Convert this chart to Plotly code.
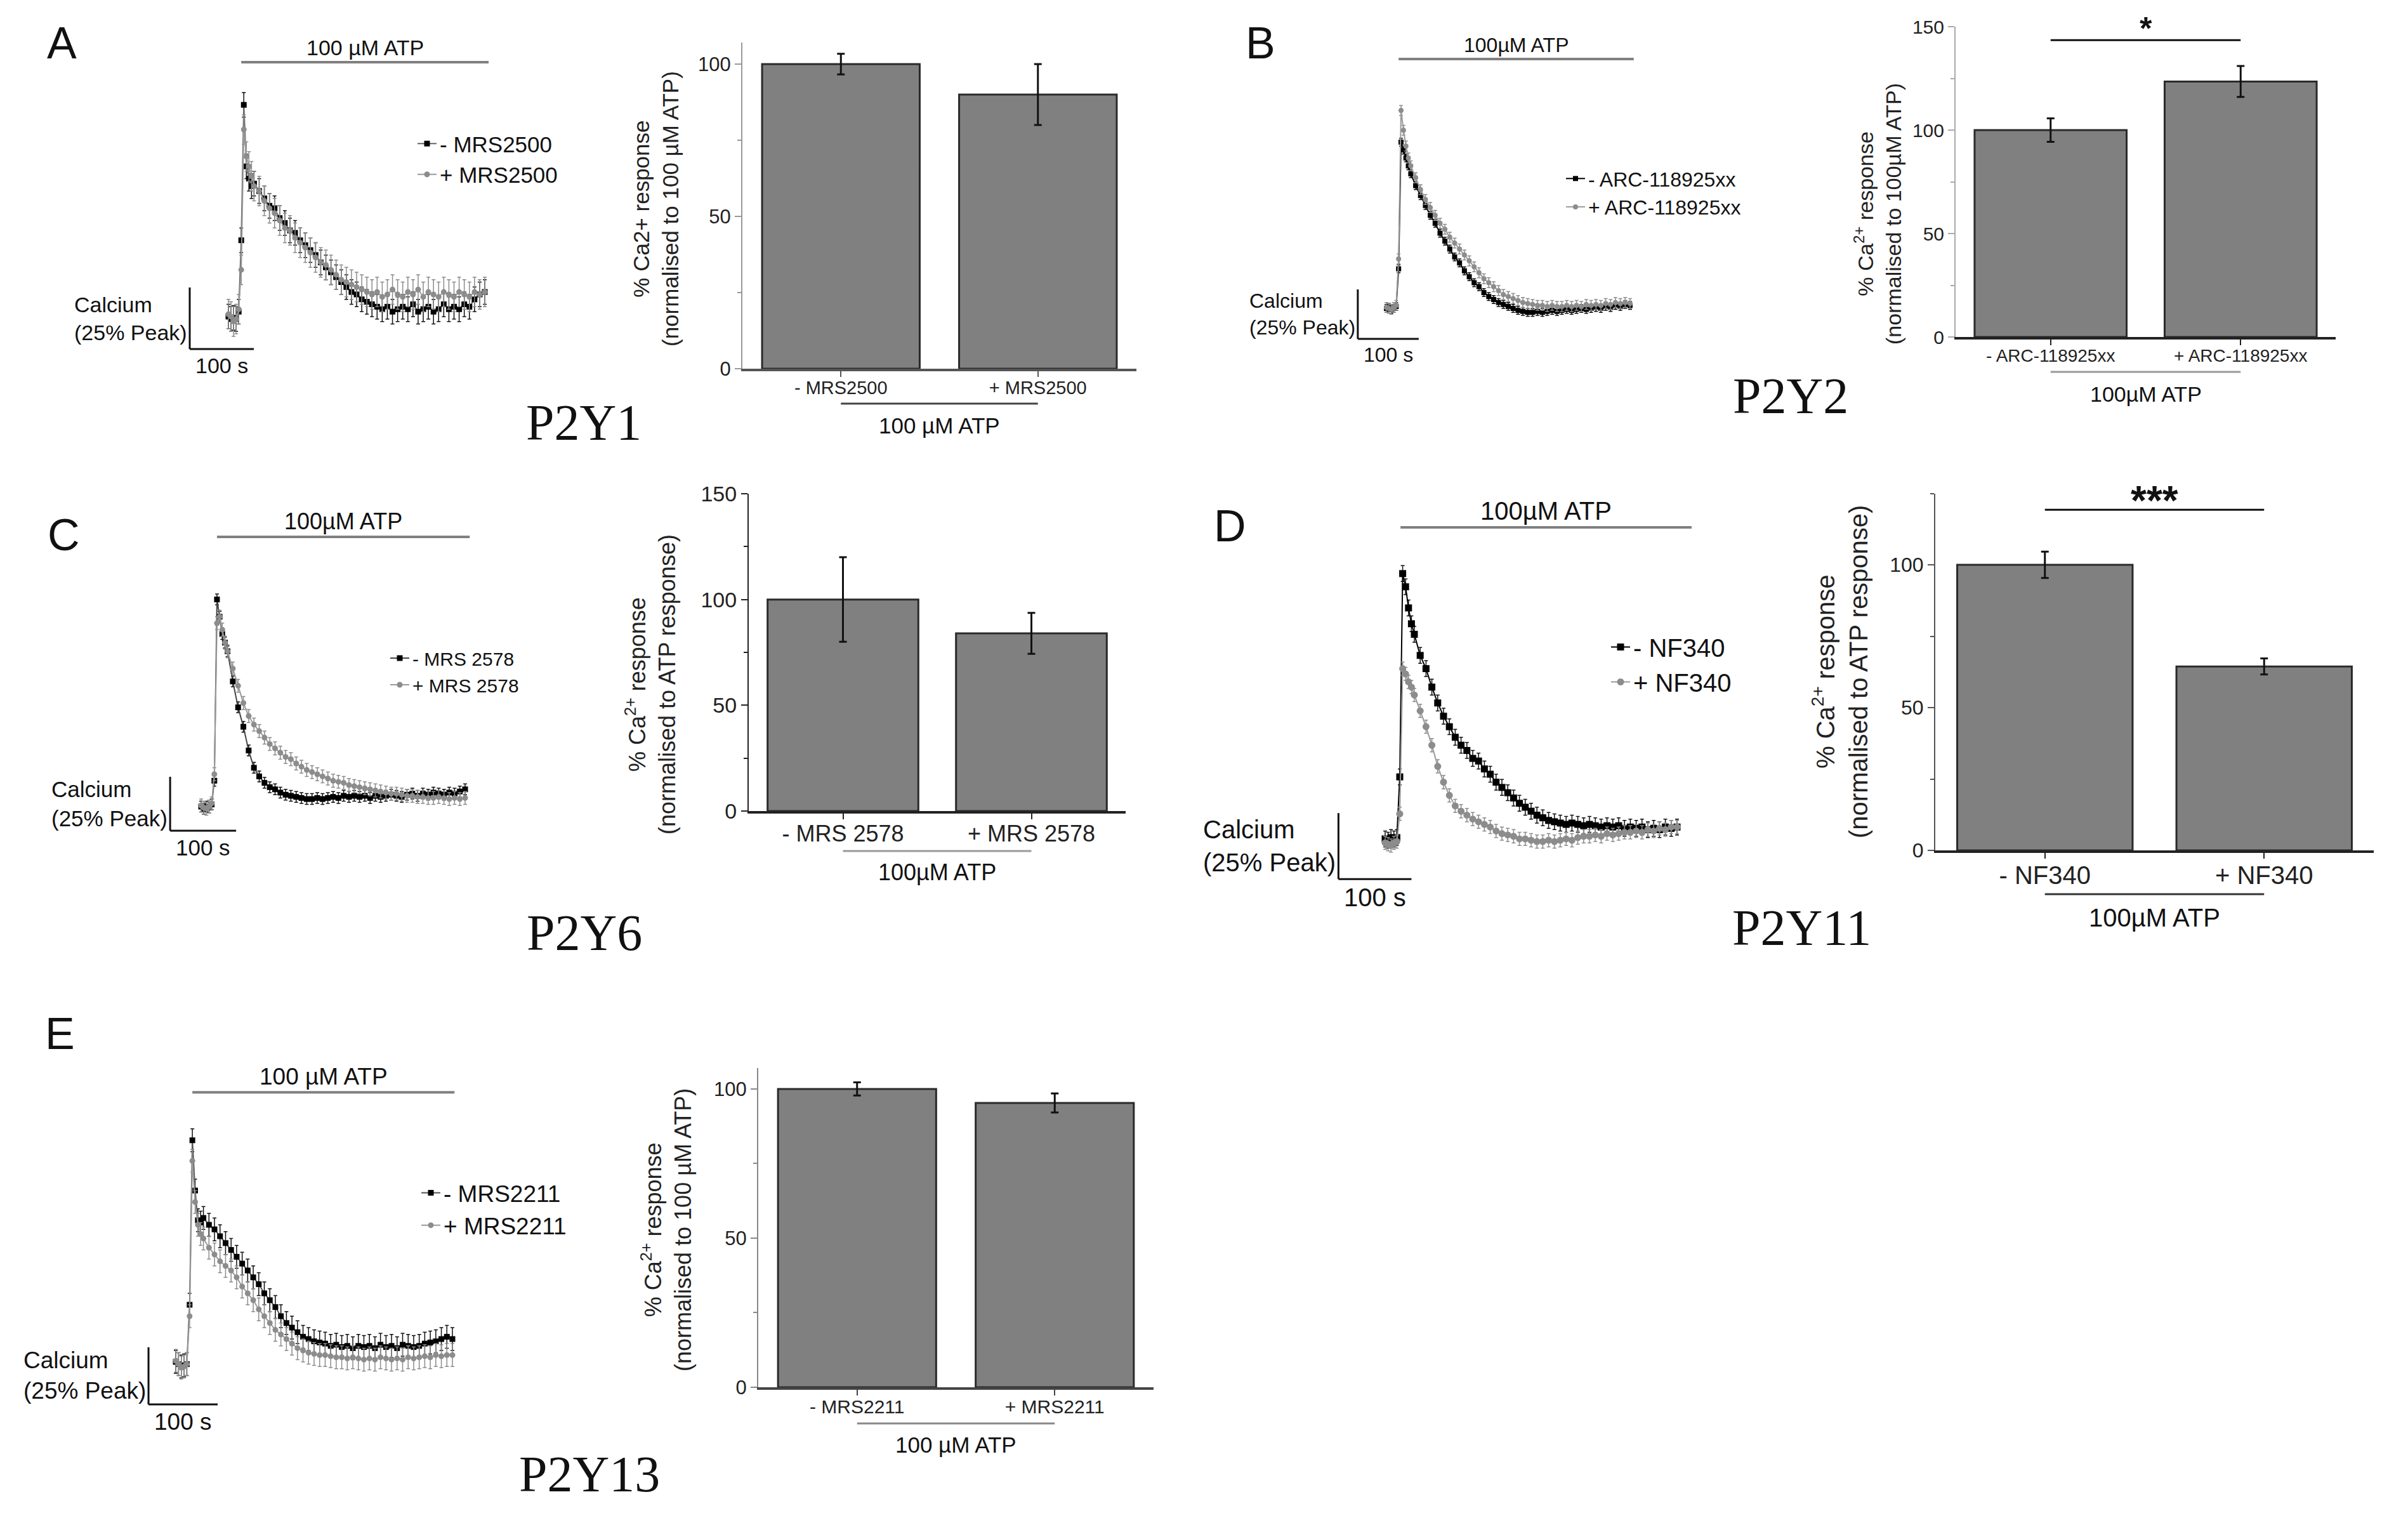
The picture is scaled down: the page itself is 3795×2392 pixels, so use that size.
import plotly.graph_objects as go

W, H = 3795, 2392
OFF = 8  # the page body margin shifts the figure by this many px
SANS = "Liberation Sans, Arial, sans-serif"
SERIF = "Liberation Serif, Times New Roman, serif"

# ---- calcium traces: time (s) and response (% of peak, scale bar = 25) ----
T = [0, 4, 8, 12, 16, 20, 24, 28, 32, 36, 40,
     48, 56, 64, 72, 80, 88, 96, 104, 112, 120,
     128, 136, 144, 152, 160, 168, 176, 184, 192, 200,
     208, 216, 224, 232, 240, 248, 256, 264, 272, 280,
     288, 296, 304, 312, 320, 328, 336, 344, 352, 360,
     368, 376, 384, 392, 400]

A_MINUS = [-1, -2, -1.5, -2, 1, 30, 85, 60, 55, 52, 53,
           50, 47, 44, 43, 39, 37, 34, 33, 30, 28,
           26, 24, 21, 19, 17, 15, 13, 11, 9, 8,
           6, 5, 4, 3, 2, 3, 1, 2, 3, 2,
           4, 1, 2, 3, 1, 2, 4, 2, 3, 2,
           4, 3, 6, 8, 9]
A_PLUS = [0, -1, -3, -2, 2, 18, 75, 64, 60, 56, 52,
          50, 46, 43, 41, 38, 35, 34, 31, 29, 27,
          25, 23, 21, 20, 18, 16, 14, 13, 12, 11,
          10, 9, 8, 9, 7, 8, 10, 8, 7, 9,
          8, 10, 7, 9, 8, 7, 9, 8, 7, 9,
          8, 7, 9, 8, 9]
B_MINUS = [0, 0.5, -0.5, 0, 1, 20, 84, 80, 76, 72, 68,
           62, 57, 52, 47, 43, 38, 34, 30, 26, 23,
           19, 16, 13, 11, 8, 6, 4.5, 3, 2, 1,
           0, -1, -1.5, -2, -2, -1.5, -2, -1.5, -1, -1.5,
           -1, -0.5, -1, -0.5, 0, -0.5, 0, 0.5, 0, 1,
           0.5, 1.5, 1, 2, 1.5]
B_PLUS = [0.5, 0, -0.5, 0.5, 1.5, 25, 100, 90, 82, 76, 72,
          66, 60, 55, 51, 47, 43, 40, 36, 33, 30,
          27, 24, 21, 18, 15, 13, 11, 9, 7, 6,
          5, 4, 3, 2.5, 2, 1.5, 1.5, 1, 1.5, 1,
          1, 1.5, 1, 1.5, 1, 2, 1.5, 2, 1.5, 2.5,
          2, 3, 2.5, 3, 2.5]
C_MINUS = [0, -1, 0, -0.5, 1, 12, 96, 88, 80, 76, 72,
           58, 46, 37, 26, 18, 14, 11, 9, 8, 6.5,
           5.5, 5, 4.5, 4, 3.5, 3.5, 4, 3.5, 4, 4.5,
           4, 5, 4.5, 5, 4.5, 5, 4, 5, 4.5, 5,
           5.5, 5, 4.5, 5.5, 6, 5, 6, 5.5, 6.5, 6,
           5.5, 6.5, 6, 7, 8]
C_PLUS = [0.5, -0.5, -1, 0, 1.5, 15, 85, 88, 82, 76, 72,
          64, 56, 48, 42, 38, 35, 32, 29, 27, 25,
          23, 22, 20, 18.5, 17, 16, 15, 14, 13, 12,
          11.5, 11, 10, 9.5, 9, 8.5, 8, 7.5, 7, 6.5,
          6, 6, 5.5, 5, 5, 4.5, 4.5, 4, 4, 4.5,
          4, 3.5, 4, 3.5, 4]
D_MINUS = [0.5, 0, 1, 0.5, 1, 24, 101, 96, 88, 82, 78,
           70, 65, 58, 52, 47, 43, 39, 36, 34, 31,
           30, 27, 25, 22, 20, 18, 16, 14, 12.5, 11,
           9.5, 8.5, 7.5, 7, 6.5, 6, 6.5, 6, 5.5, 6,
           5.5, 5, 5.5, 5, 5.5, 4.5, 5, 4.5, 5, 4,
           4.5, 4, 5, 4.5, 5]
D_PLUS = [-1, -1.5, -2, -1, -0.5, 10, 65, 63, 60, 58, 55,
          49, 43, 36, 28, 22, 17, 13, 11, 9.5, 8,
          7, 6, 5, 3.5, 2.5, 2, 1.5, 0.5, 0.5, 0,
          -0.5, -0.5, 0, -0.5, 0, 0.5, 0, 1, 1.5, 1.5,
          2, 1.5, 2.5, 2, 2.5, 3, 3, 3.5, 3, 4,
          3.5, 4.5, 4, 5, 5]
E_MINUS = [0, -1, -2, -1.5, -1, 25, 97, 75, 62, 61, 63,
           60, 58, 55, 52, 49, 46, 43, 40, 37, 34,
           30, 27, 24, 20, 17, 15, 13, 11, 10, 9,
           8.5, 8, 7, 7.5, 6.5, 7, 6, 7, 6.5, 7,
           6, 7.5, 6.5, 7, 6, 7.5, 7, 6.5, 7, 8,
           8.5, 9, 10, 11, 10]
E_PLUS = [0.5, -1, -2.5, -2, -1, 20, 88, 70, 60, 56, 54,
          50, 47, 44, 42, 40, 37, 33, 30, 27, 23,
          20, 17, 14, 12, 10, 8, 6, 5, 4, 3.5,
          3, 3, 2.5, 2, 2, 1.5, 2, 1.5, 1, 1.5,
          1, 2, 1.5, 1, 1.5, 1, 2, 1.5, 2, 2.5,
          2, 3, 2.5, 3, 3]

# SEM of each trace (minus, plus)
A_TRACE_ERR = [5, 6]
B_TRACE_ERR = [2, 2.5]
C_TRACE_ERR = [2.5, 3]
D_TRACE_ERR = [3, 2.5]
E_TRACE_ERR = [5, 5]

# ---- bar charts: % Ca2+ response ----
A_CATS = ["- MRS2500", "+ MRS2500"]
A_VALS = [100, 90]
A_SEM = [3.4, 10]
B_CATS = ["- ARC-118925xx", "+ ARC-118925xx"]
B_VALS = [100, 123.5]
B_SEM = [5.7, 7.5]
C_CATS = ["- MRS 2578", "+ MRS 2578"]
C_VALS = [100, 84]
C_SEM = [20, 9.7]
D_CATS = ["- NF340", "+ NF340"]
D_VALS = [100, 64.4]
D_SEM = [4.6, 2.8]
E_CATS = ["- MRS2211", "+ MRS2211"]
E_VALS = [100, 95.3]
E_SEM = [2.2, 3.2]

TRACE_PANELS = [
    dict(n=1, leg="legend", minus=A_MINUS, plus=A_PLUS, err=A_TRACE_ERR, names=A_CATS,
         atp="100 µM ATP", t0=360, pxs=1.01, y0=495, pxu=3.88, sb=(-60.4, -14.2),
         atp_y=102.3, atp_t=(20, 406), legpos=(653, 197), fs=35, cfs=34, atpfs=34, ms=9, lc="#666"),
    dict(n=3, leg="legend2", minus=B_MINUS, plus=B_PLUS, err=B_TRACE_ERR, names=B_CATS,
         atp="100µM ATP", t0=2185, pxs=0.96, y0=486, pxu=3.12, sb=(-47, -15.4),
         atp_y=126, atp_t=(20, 406), legpos=(2463, 254), fs=32, cfs=32, atpfs=32, ms=8, lc="#000"),
    dict(n=5, leg="legend3", minus=C_MINUS, plus=C_PLUS, err=C_TRACE_ERR, names=C_CATS,
         atp="100µM ATP", t0=317, pxs=1.04, y0=1271, pxu=3.4, sb=(-47, -11.2),
         atp_y=125, atp_t=(24, 407), legpos=(610, 1011), fs=30, cfs=35, atpfs=36, ms=9, lc="#444"),
    dict(n=7, leg="legend4", minus=D_MINUS, plus=D_PLUS, err=D_TRACE_ERR, names=D_CATS,
         atp="100µM ATP", t0=2183, pxs=1.15, y0=1324, pxu=4.16, sb=(-64, -14.7),
         atp_y=118.5, atp_t=(21, 420), legpos=(2534, 987), fs=40, cfs=40, atpfs=40, ms=11, lc="#000"),
    dict(n=9, leg="legend5", minus=E_MINUS, plus=E_PLUS, err=E_TRACE_ERR, names=E_CATS,
         atp="100 µM ATP", t0=277, pxs=1.09, y0=2146, pxu=3.6, sb=(-39.4, -18.6),
         atp_y=118, atp_t=(24, 403), legpos=(659, 1849), fs=37, cfs=37, atpfs=37, ms=9, lc="#555"),
]

BAR_PANELS = [
    dict(n=2, cats=A_CATS, vals=A_VALS, sem=A_SEM, xpx=(1170, 1791), ypx=(67.4, 581), yr=[0, 107],
         xtfs=29, ytfs=31, title="% Ca2+ response<br>(normalised to 100 µM ATP)", tpos=(1034, 329),
         titfs=35, brk=636, atp="100 µM ATP", atpy=670, atpfs=35, ylc="#999", xlc="#555",
         brc="#444", sig=None),
    dict(n=4, cats=B_CATS, vals=B_VALS, sem=B_SEM, xpx=(3082, 3681), ypx=(42, 531), yr=[0, 150],
         xtfs=28, ytfs=30, title="% Ca<sup>2+</sup> response<br>(normalised to 100µM ATP)",
         tpos=(2960, 337), titfs=34, brk=586, atp="100µM ATP", atpy=621, atpfs=34, ylc="#aaa",
         xlc="#222", brc="#999", sig=(143.5, "*", 50, -12)),
    dict(n=6, cats=C_CATS, vals=C_VALS, sem=C_SEM, xpx=(1180, 1774), ypx=(778, 1278), yr=[0, 150],
         xtfs=36, ytfs=34, title="% Ca<sup>2+</sup> response<br>(normalised to ATP response)",
         tpos=(1025, 1079), titfs=36, brk=1341, atp="100µM ATP", atpy=1374, atpfs=36, ylc="#222",
         xlc="#222", brc="#999", sig=None),
    dict(n=8, cats=D_CATS, vals=D_VALS, sem=D_SEM, xpx=(3050, 3741), ypx=(777.5, 1340), yr=[0, 125],
         xtfs=40, ytfs=32, title="% Ca<sup>2+</sup> response<br>(normalised to ATP response)",
         tpos=(2900, 1059), titfs=40, brk=1409, atp="100µM ATP", atpy=1446, atpfs=40, ylc="#555",
         xlc="#222", brc="#333", sig=(119.3, "***", 64, -24)),
    dict(n=10, cats=E_CATS, vals=E_VALS, sem=E_SEM, xpx=(1195, 1818), ypx=(1683, 2186), yr=[0, 107],
         xtfs=30, ytfs=31, title="% Ca<sup>2+</sup> response<br>(normalised to 100 µM ATP)",
         tpos=(1050, 1938), titfs=36, brk=2243, atp="100 µM ATP", atpy=2276, atpfs=35, ylc="#888",
         xlc="#444", brc="#888", sig=None),
]

LETTERS = [("A", 97, 68), ("B", 1986, 68), ("C", 100, 843), ("D", 1938, 829), ("E", 94, 1629)]
RECEPTORS = [("P2Y1", 920, 666), ("P2Y2", 2822, 624), ("P2Y6", 921, 1470),
             ("P2Y11", 2839, 1462), ("P2Y13", 929, 2323)]


def sfx(n):
    return "" if n == 1 else str(n)


def fx(px):
    return (px - OFF) / W


def fy(py):
    return 1 - (py - OFF) / H


fig = go.Figure()
shapes, annots = [], []
layout = dict(width=W, height=H, margin=dict(l=0, r=0, t=0, b=0, autoexpand=False),
              paper_bgcolor="white", plot_bgcolor="white", showlegend=True,
              font=dict(family=SANS, color="#111"))

for p in TRACE_PANELS:
    n = p["n"]
    xa, ya = "x" + sfx(n), "y" + sfx(n)
    xr = [-75, 425]
    yr = [-22, p["atp_y"] + 6]
    xdom = [fx(p["t0"] + xr[0] * p["pxs"]), fx(p["t0"] + xr[1] * p["pxs"])]
    ydom = [fy(p["y0"] - yr[0] * p["pxu"]), fy(p["y0"] - yr[1] * p["pxu"])]
    layout["xaxis" + sfx(n)] = dict(domain=xdom, range=xr, visible=False, anchor=ya, automargin=False)
    layout["yaxis" + sfx(n)] = dict(domain=ydom, range=yr, visible=False, anchor=xa, automargin=False)

    fig.add_trace(go.Scatter(
        x=T, y=p["minus"], name=p["names"][0], mode="lines+markers", xaxis=xa, yaxis=ya,
        legend=p["leg"], cliponaxis=False,
        line=dict(color=p["lc"], width=2),
        marker=dict(symbol="square", size=p["ms"], color="#000"),
        error_y=dict(type="constant", value=p["err"][0], color="#111", thickness=1.5, width=3)))
    fig.add_trace(go.Scatter(
        x=T, y=p["plus"], name=p["names"][1], mode="lines+markers", xaxis=xa, yaxis=ya,
        legend=p["leg"], cliponaxis=False,
        line=dict(color="#9a9a9a", width=2),
        marker=dict(symbol="circle", size=p["ms"], color="#8c8c8c"),
        error_y=dict(type="constant", value=p["err"][1], color="#8c8c8c", thickness=1.5, width=3)))

    lx, ly = p["legpos"]
    layout[p["leg"]] = dict(x=fx(lx), y=fy(ly), xanchor="left", yanchor="top",
                            bgcolor="rgba(0,0,0,0)", borderwidth=0, tracegroupgap=0,
                            font=dict(family=SANS, size=p["fs"], color="#111"))

    # stimulus bar
    shapes.append(dict(type="line", xref=xa, yref=ya, x0=p["atp_t"][0], x1=p["atp_t"][1],
                       y0=p["atp_y"], y1=p["atp_y"], line=dict(color="#808080", width=4)))
    annots.append(dict(xref=xa, yref=ya, x=(p["atp_t"][0] + p["atp_t"][1]) / 2, y=p["atp_y"],
                       text=p["atp"], showarrow=False, yanchor="bottom", yshift=2,
                       font=dict(family=SANS, size=p["atpfs"], color="#111")))
    # scale bar: 25% peak, 100 s
    st, sy = p["sb"]
    shapes.append(dict(type="line", xref=xa, yref=ya, x0=st, x1=st, y0=sy, y1=sy + 25,
                       line=dict(color="#111", width=3)))
    shapes.append(dict(type="line", xref=xa, yref=ya, x0=st, x1=st + 100, y0=sy, y1=sy,
                       line=dict(color="#111", width=3)))
    annots.append(dict(xref=xa, yref=ya, x=st, y=sy + 12.5, text="Calcium<br>(25% Peak)",
                       showarrow=False, xanchor="right", yanchor="middle", align="left", xshift=-2,
                       font=dict(family=SANS, size=p["cfs"], color="#111")))
    annots.append(dict(xref=xa, yref=ya, x=st + 50, y=sy, text="100 s", showarrow=False,
                       yanchor="top", yshift=-5,
                       font=dict(family=SANS, size=p["cfs"], color="#111")))

for b in BAR_PANELS:
    n = b["n"]
    xa, ya = "x" + sfx(n), "y" + sfx(n)
    fig.add_trace(go.Bar(
        x=b["cats"], y=b["vals"], width=0.8, xaxis=xa, yaxis=ya, showlegend=False,
        marker=dict(color="#808080", line=dict(color="#2a2a2a", width=3)),
        error_y=dict(type="data", array=b["sem"], color="#111", thickness=3, width=6)))
    layout["xaxis" + sfx(n)] = dict(
        domain=[fx(b["xpx"][0]), fx(b["xpx"][1])], anchor=ya, type="category", range=[-0.5, 1.5],
        showline=True, linecolor=b["xlc"], linewidth=4, ticks="outside", ticklen=9, tickwidth=2,
        tickcolor=b["xlc"], ticklabelstandoff=-8,
        tickfont=dict(family=SANS, size=b["xtfs"], color="#222"),
        showgrid=False, zeroline=False, automargin=False)
    layout["yaxis" + sfx(n)] = dict(
        domain=[fy(b["ypx"][1]), fy(b["ypx"][0])], anchor=xa, range=b["yr"],
        showline=True, linecolor=b["ylc"], linewidth=2, ticks="outside", ticklen=10, tickwidth=2,
        tickcolor=b["ylc"], tickmode="linear", tick0=0, dtick=50,
        tickfont=dict(family=SANS, size=b["ytfs"], color="#222"),
        minor=dict(ticks="outside", dtick=25, ticklen=6, tickwidth=2, tickcolor=b["ylc"]),
        showgrid=False, zeroline=False, automargin=False)

    tx, ty = b["tpos"]
    annots.append(dict(xref="paper", yref="paper", x=fx(tx), y=fy(ty), text=b["title"],
                       textangle=-90, showarrow=False, xanchor="center", yanchor="middle",
                       font=dict(family=SANS, size=b["titfs"], color="#222")))
    shapes.append(dict(type="line", xref=xa, yref="paper", x0=0, x1=1,
                       y0=fy(b["brk"]), y1=fy(b["brk"]), line=dict(color=b["brc"], width=3)))
    annots.append(dict(xref=xa, yref="paper", x=0.5, y=fy(b["atpy"]), text=b["atp"],
                       showarrow=False, yanchor="middle",
                       font=dict(family=SANS, size=b["atpfs"], color="#111")))
    if b["sig"]:
        sv, star, sfs, sshift = b["sig"]
        shapes.append(dict(type="line", xref=xa, yref=ya, x0=0, x1=1, y0=sv, y1=sv,
                           line=dict(color="#111", width=3)))
        annots.append(dict(xref=xa, yref=ya, x=0.5, y=sv, text="<b>" + star + "</b>",
                           showarrow=False, yanchor="bottom", yshift=sshift,
                           font=dict(family=SANS, size=sfs, color="#111")))

for letter, x, y in LETTERS:
    annots.append(dict(xref="paper", yref="paper", x=fx(x), y=fy(y), text=letter,
                       showarrow=False, xanchor="center", yanchor="middle",
                       font=dict(family=SANS, size=70, color="#111")))
for lab, x, y in RECEPTORS:
    annots.append(dict(xref="paper", yref="paper", x=fx(x), y=fy(y), text=lab,
                       showarrow=False, xanchor="center", yanchor="middle",
                       font=dict(family=SERIF, size=80, color="#111")))

layout["shapes"] = shapes
layout["annotations"] = annots
fig.update_layout(**layout)
fig.write_html("out.html")
